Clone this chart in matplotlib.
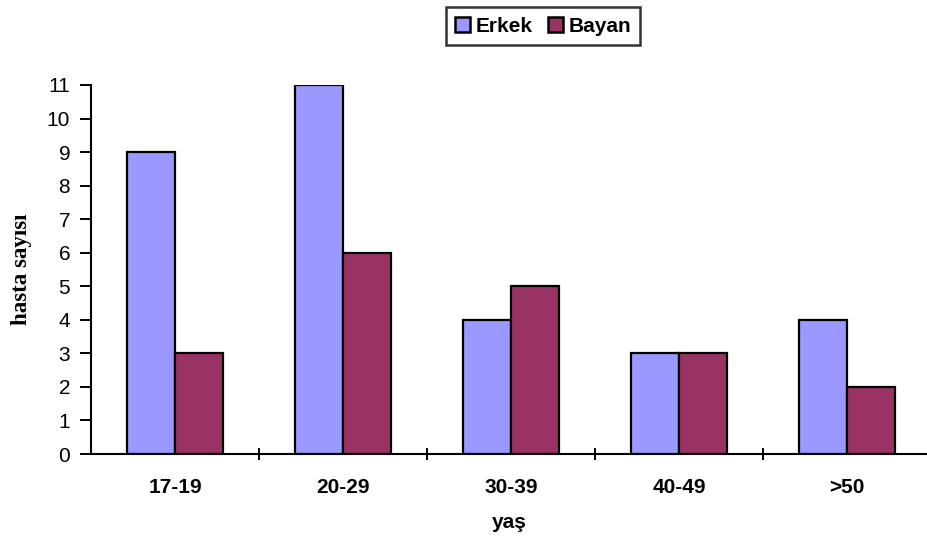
import numpy as np
import matplotlib.pyplot as plt
from matplotlib.ticker import FixedLocator

# age groups and patient counts
yas_gruplari = ['17-19', '20-29', '30-39', '40-49', '>50']
erkek = [9, 11, 4, 3, 4]
bayan = [3, 6, 5, 3, 2]

plt.rcParams['font.family'] = ['Liberation Sans', 'DejaVu Sans']

fig = plt.figure(figsize=(9.27, 5.41), dpi=100)
ax = fig.add_axes([91/927, 87/541, (927-91)/927, 369/541])

x = np.arange(len(yas_gruplari))
w = 0.286
ax.bar(x - w/2, erkek, w, color='#9999FF', edgecolor='black', linewidth=1.6, label='Erkek')
ax.bar(x + w/2, bayan, w, color='#993366', edgecolor='black', linewidth=1.6, label='Bayan')

ax.set_xlim(-0.5, 4.5 - 4/168)
ax.set_ylim(0, 11)
ax.set_yticks(range(0, 12))
ax.tick_params(axis='y', direction='out', length=8, width=1.4, labelsize=15, pad=7)

# category separators as major ticks, labels on minor ticks
ax.xaxis.set_major_locator(FixedLocator(x[:-1] + 0.5))
ax.xaxis.set_major_formatter(plt.NullFormatter())
ax.tick_params(axis='x', which='major', direction='inout', length=8, width=1.4)
ax.set_xticks(x, minor=True)
ax.set_xticklabels(yas_gruplari, minor=True, fontsize=15, fontweight='bold')
ax.tick_params(axis='x', which='minor', length=0, pad=17)

for s in ['top', 'right']:
    ax.spines[s].set_visible(False)
for s in ['left', 'bottom']:
    ax.spines[s].set_linewidth(1.5)

ax.set_xlabel('yaş', fontsize=15, fontweight='bold', labelpad=12)
ax.set_ylabel('hasta sayısı', fontsize=16.5, fontweight='bold',
              family=['Liberation Serif', 'DejaVu Serif'], labelpad=11)

leg = fig.legend(loc='center', bbox_to_anchor=(543/927, 1 - 26/541), ncol=2,
                 frameon=True, fancybox=False, edgecolor='black',
                 prop={'weight': 'bold', 'size': 15},
                 handlelength=0.72, handleheight=0.72, handletextpad=0.25,
                 columnspacing=0.75, borderpad=0.45, borderaxespad=0)
leg.get_frame().set_linewidth(1.8)
for h in leg.legend_handles:
    h.set_linewidth(1.8)

fig.savefig('out.png', dpi=100)
